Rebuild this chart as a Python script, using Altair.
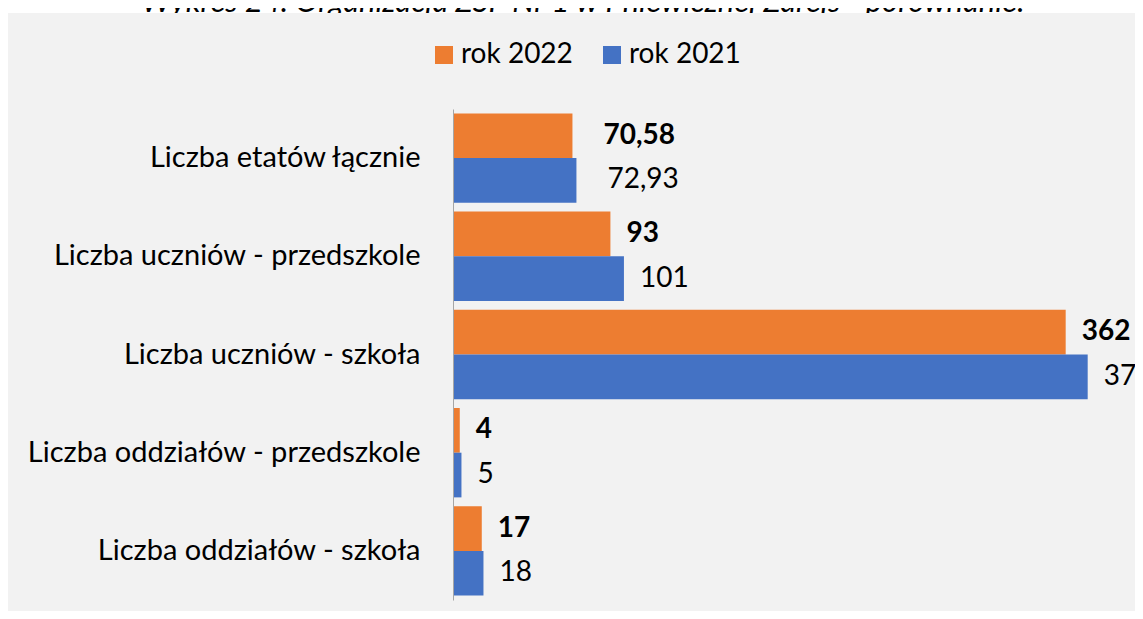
import altair as alt
import pandas as pd

# ---- data ----
categories = [
    "Liczba etatów łącznie",
    "Liczba uczniów - przedszkole",
    "Liczba uczniów - szkoła",
    "Liczba oddziałów - przedszkole",
    "Liczba oddziałów - szkoła",
]
series = ["rok 2022", "rok 2021"]
values_2022 = [70.58, 93, 362, 4, 17]
values_2021 = [72.93, 101, 375, 5, 18]
title_text = "Wykres 24. Organizacja ZSP Nr 1 w Pniewicznej Zarejs - porównanie."


def fmt(v):
    s = f"{v:.2f}" if v % 1 else f"{int(v)}"
    return s.replace(".", ",")


rows = []
for i, c in enumerate(categories):
    for s, vals in zip(series, [values_2022, values_2021]):
        v = vals[i]
        rows.append({"kategoria": c, "seria": s, "wartosc": v,
                     "etykieta": fmt(v), "idx": i})
df = pd.DataFrame(rows)

FONT = "Lato"
FS = 28
ORANGE = "#ED7D31"
BLUE = "#4472C4"
BG = "#F2F2F2"

y_enc = alt.Y(
    "kategoria:N", sort=categories,
    scale=alt.Scale(paddingInner=0.09, paddingOuter=0.045),
    axis=alt.Axis(title=None, ticks=False, labelPadding=33, labelFontSize=29,
                  labelFont=FONT, labelColor="#000000", domainColor="#A6A6A6",
                  domainWidth=1, labelLimit=600, zindex=1),
)
yoff = alt.YOffset("seria:N", sort=series,
                   scale=alt.Scale(domain=series, paddingInner=0, paddingOuter=0))
x_enc = alt.X("wartosc:Q", scale=alt.Scale(domain=[0, 400], nice=False), axis=None)
color = alt.Color(
    "seria:N",
    scale=alt.Scale(domain=series, range=[ORANGE, BLUE]),
    legend=alt.Legend(
        title=None, orient="none", direction="horizontal",
        legendX=-23, legendY=-68,
        symbolType="square", symbolSize=324, symbolStrokeWidth=0,
        symbolOpacity=1,
        labelFontSize=FS, labelFont=FONT, labelColor="#000000",
        labelOffset=3, columnPadding=25, labelLimit=300,
    ),
)

base = alt.Chart(df)

bg = alt.Chart(pd.DataFrame({"a": [0]})).mark_rect(color=BG).encode(
    x=alt.value(-449), x2=alt.value(682), y=alt.value(-96), y2=alt.value(510)
)
title = alt.Chart(pd.DataFrame({"a": [0]})).mark_text(
    text=title_text, font=FONT, fontSize=31, fontStyle="italic",
    align="center", baseline="alphabetic", color="#000000",
).encode(x=alt.value(130), y=alt.value(-97))

bars = base.mark_bar().encode(y=y_enc, yOffset=yoff, x=x_enc, color=color)

layers = [title, bg, bars]
for s, weight in zip(series, ["bold", "normal"]):
    for cond, dx in [("datum.idx == 0", 31), ("datum.idx != 0", 16)]:
        layers.append(
            base.transform_filter(f"datum.seria == '{s}' && {cond}")
            .mark_text(align="left", baseline="middle", dx=dx, fontSize=FS,
                       font=FONT, fontWeight=weight, color="#000000")
            .encode(y=y_enc, yOffset=yoff, x=x_enc, text="etykieta:N")
        )

chart = (
    alt.layer(*layers)
    .properties(
        width=677, height=491,
        autosize=alt.AutoSizeParams(type="none"),
        padding={"left": 445, "top": 101, "right": 5, "bottom": 11},
        background="white",
    )
    .configure_view(stroke=None)
)

chart.save("out.html", embed_options={"renderer": "svg", "actions": False})
